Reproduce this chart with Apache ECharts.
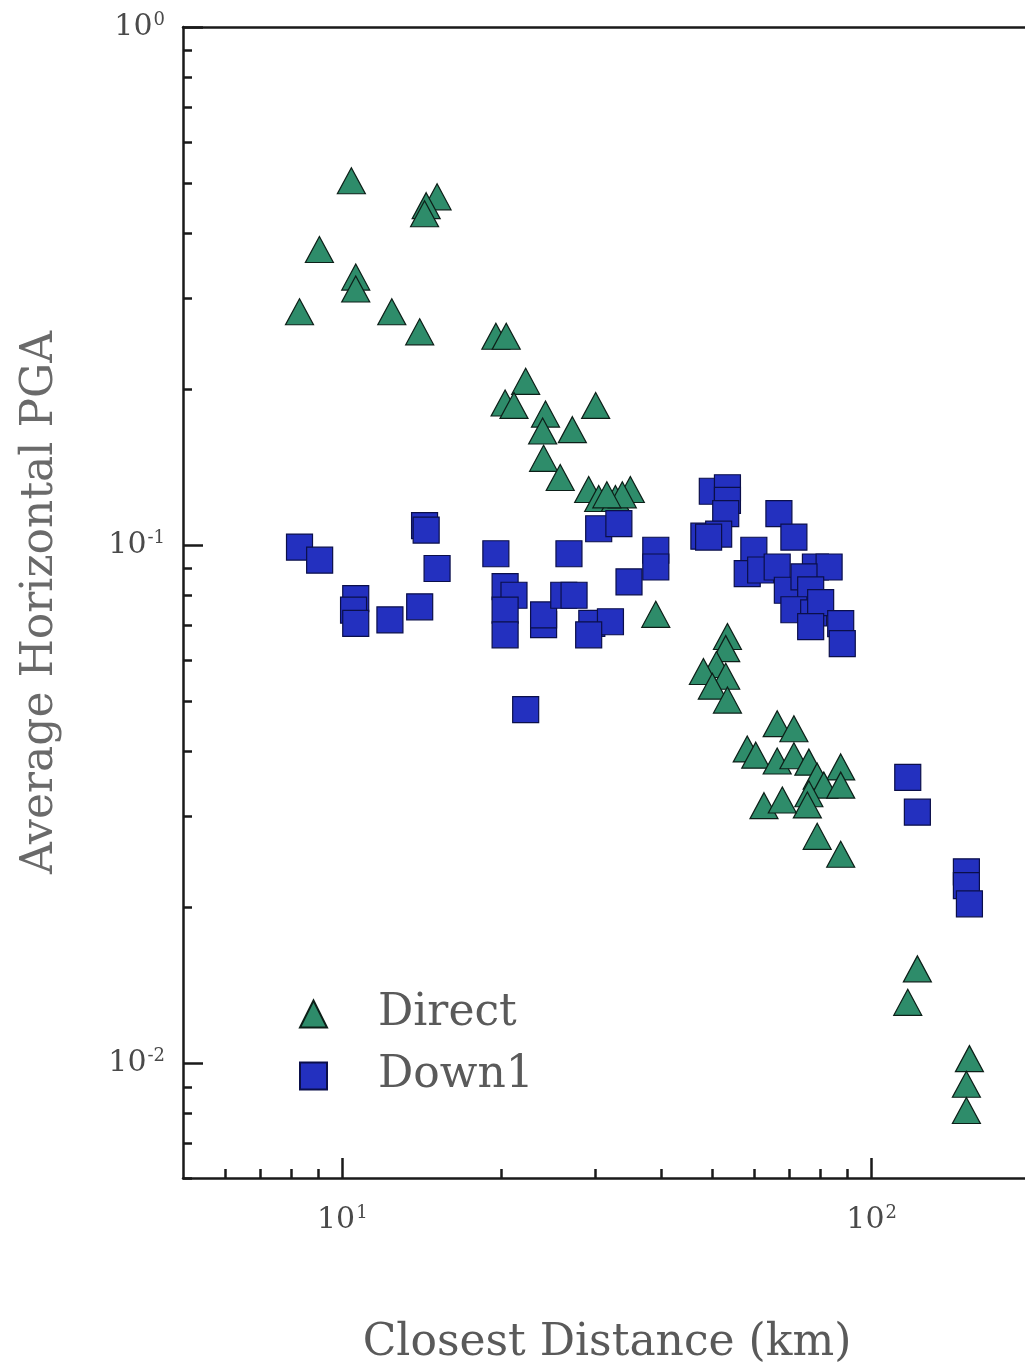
<!DOCTYPE html>
<html>
<head>
<meta charset="utf-8">
<script src="https://cdn.jsdelivr.net/npm/echarts@6/dist/echarts.min.js"></script>
<style>
html,body{margin:0;padding:0;background:#fff;overflow:hidden;}
#chart{width:1060px;height:1371px;}
</style>
</head>
<body>
<div id="chart"></div>
<script>
// Closest distance (km), average horizontal PGA (g)
const directData = [
  [10.4,0.505],[15.1,0.470],[14.4,0.452],[14.3,0.436],[9.05,0.372],[10.6,0.329],[10.6,0.312],
  [8.3,0.282],[12.4,0.282],[14.0,0.258],[19.5,0.253],[20.4,0.253],[22.2,0.207],[20.3,0.188],
  [21.1,0.186],[30.1,0.186],[24.2,0.179],[23.9,0.166],[27.2,0.167],[24.0,0.147],[25.8,0.135],
  [29.2,0.128],[30.5,0.123],[32.8,0.123],[35.0,0.128],[33.8,0.125],[31.6,0.125],[39.1,0.0735],
  [53.4,0.0666],[53.0,0.0631],[50.9,0.0588],[48.1,0.0570],[53.0,0.0558],[50.0,0.0534],[53.4,0.0502],
  [66.3,0.0452],[71.3,0.0442],[58.2,0.0404],[60.4,0.0393],[66.3,0.0383],[71.3,0.0392],[76.1,0.0381],
  [87.4,0.0373],[78.9,0.0358],[81.2,0.0344],[87.4,0.0344],[76.1,0.0331],[75.6,0.0315],[62.6,0.0314],
  [67.8,0.0322],[78.9,0.0274],[87.4,0.0253],
  [122,0.0152],[117,0.0131],[153,0.0102],[151,0.0091],[151,0.0081]
];
const down1Data = [
  [8.3,0.0991],[9.06,0.0935],[14.3,0.109],[14.4,0.1069],[15.1,0.0901],[10.6,0.0788],[10.5,0.0749],
  [10.6,0.0706],[12.3,0.0717],[14.0,0.0760],[19.5,0.0962],[20.3,0.0831],[21.1,0.0800],[20.3,0.0749],
  [20.3,0.0671],[24.0,0.0702],[24.0,0.0733],[26.2,0.0800],[27.4,0.0800],[26.8,0.0962],[30.5,0.1075],
  [33.3,0.110],[29.6,0.0706],[32.1,0.0711],[29.2,0.0671],[34.8,0.0849],[39.1,0.0977],[39.1,0.0907],
  [22.2,0.0481],
  [50.0,0.127],[53.4,0.129],[53.4,0.122],[53.0,0.115],[48.2,0.104],[51.4,0.105],[49.2,0.1036],
  [66.8,0.115],[71.3,0.1036],[59.9,0.0977],[58.2,0.0881],[61.7,0.0895],[66.3,0.0907],[69.3,0.0818],
  [78.3,0.0907],[83.1,0.0907],[74.5,0.0868],[76.7,0.0819],[71.3,0.0750],[77.7,0.0740],[80.1,0.0774],
  [76.7,0.0696],[87.4,0.0705],[88.0,0.0645],
  [117,0.0356],[122,0.0305],[151,0.0234],[151,0.0220],[153,0.0203]
];
const seriesNames = ['Direct','Down1'];
const xMajorTicks = [10,100];
const xMinorTicks = [6,7,8,9,20,30,40,50,60,70,80,90,200];
const yMajorTicks = [0.01,0.1,1];
const yMinorTicks = [0.006,0.007,0.008,0.009,0.02,0.03,0.04,0.05,0.06,0.07,0.08,0.09,0.2,0.3,0.4,0.5,0.6,0.7,0.8,0.9];
const xTitle = 'Closest Distance (km)';
const yTitle = 'Average Horizontal PGA';

const FONT = '"DejaVu Serif", "Liberation Serif", serif';
const AX = '#1a1a1a';
const labelRich = {
  b: {fontFamily: FONT, fontSize: 30, color: '#4a4a4a', lineHeight: 32},
  s: {fontFamily: FONT, fontSize: 18, color: '#4a4a4a', verticalAlign: 'top', lineHeight: 32, padding: [0,0,12,1]}
};
function powLabel(v){
  const e = Math.round(Math.log10(v));
  return '{b|10}{s|' + e + '}';
}

const chart = echarts.init(document.getElementById('chart'), null, {renderer: 'canvas'});
chart.setOption({
  animation: false,
  backgroundColor: '#fff',
  grid: {left: 183, top: 27, width: 848, height: 1157, containLabel: false},
  legend: {
    orient: 'vertical', left: 299, top: 992, padding: 0, itemGap: 18,
    itemWidth: 27, itemHeight: 27,
    data: seriesNames,
    textStyle: {fontFamily: FONT, fontSize: 44, color: '#5a5a5a', padding: [0,0,0,46]}
  },
  xAxis: [
    {
      type: 'log', logBase: 10, min: 5, max: 200, position: 'bottom',
      name: xTitle, nameLocation: 'middle', nameGap: 144,
      nameTextStyle: {fontFamily: FONT, fontSize: 44, color: '#5a5a5a'},
      axisLine: {show: true, lineStyle: {color: AX, width: 2.5}},
      axisTick: {show: true, inside: true, length: 20, lineStyle: {color: AX, width: 2.5}, customValues: xMajorTicks},
      axisLabel: {show: true, margin: 26, fontFamily: FONT, fontSize: 30, customValues: xMajorTicks, formatter: powLabel, rich: labelRich},
      splitLine: {show: false}, minorTick: {show: false}
    },
    {
      type: 'log', logBase: 10, min: 5, max: 200, position: 'bottom',
      axisLine: {show: false},
      axisTick: {show: true, inside: true, length: 9, lineStyle: {color: AX, width: 2.5}, customValues: xMinorTicks},
      axisLabel: {show: false}, splitLine: {show: false}
    },
    {
      type: 'log', logBase: 10, min: 5, max: 200, position: 'top',
      axisLine: {show: true, lineStyle: {color: AX, width: 2.5}},
      axisTick: {show: false}, axisLabel: {show: false}, splitLine: {show: false}
    }
  ],
  yAxis: [
    {
      type: 'log', logBase: 10, min: 0.006, max: 1, position: 'left',
      name: yTitle, nameLocation: 'middle', nameGap: 120, nameRotate: 90,
      nameTextStyle: {fontFamily: FONT, fontSize: 44, color: '#6a6a6a'},
      axisLine: {show: true, lineStyle: {color: AX, width: 2.5}},
      axisTick: {show: true, inside: true, length: 20, lineStyle: {color: AX, width: 2.5}, customValues: yMajorTicks},
      axisLabel: {show: true, margin: 18, fontFamily: FONT, fontSize: 30, customValues: yMajorTicks, formatter: powLabel, rich: labelRich},
      splitLine: {show: false}
    },
    {
      type: 'log', logBase: 10, min: 0.006, max: 1, position: 'left',
      axisLine: {show: false},
      axisTick: {show: true, inside: true, length: 9, lineStyle: {color: AX, width: 2.5}, customValues: yMinorTicks},
      axisLabel: {show: false}, splitLine: {show: false}
    }
  ],
  series: [
    {
      name: seriesNames[0], type: 'scatter', xAxisIndex: 0, yAxisIndex: 0,
      symbol: 'triangle', symbolSize: [28, 26],
      itemStyle: {color: '#2e8c6a', borderColor: '#0d1f18', borderWidth: 1.2, opacity: 1},
      data: directData
    },
    {
      name: seriesNames[1], type: 'scatter', xAxisIndex: 0, yAxisIndex: 0,
      symbol: 'rect', symbolSize: 26,
      itemStyle: {color: '#2330bf', borderColor: '#0b0f4a', borderWidth: 1.2, opacity: 1},
      data: down1Data
    }
  ]
});
</script>
</body>
</html>
